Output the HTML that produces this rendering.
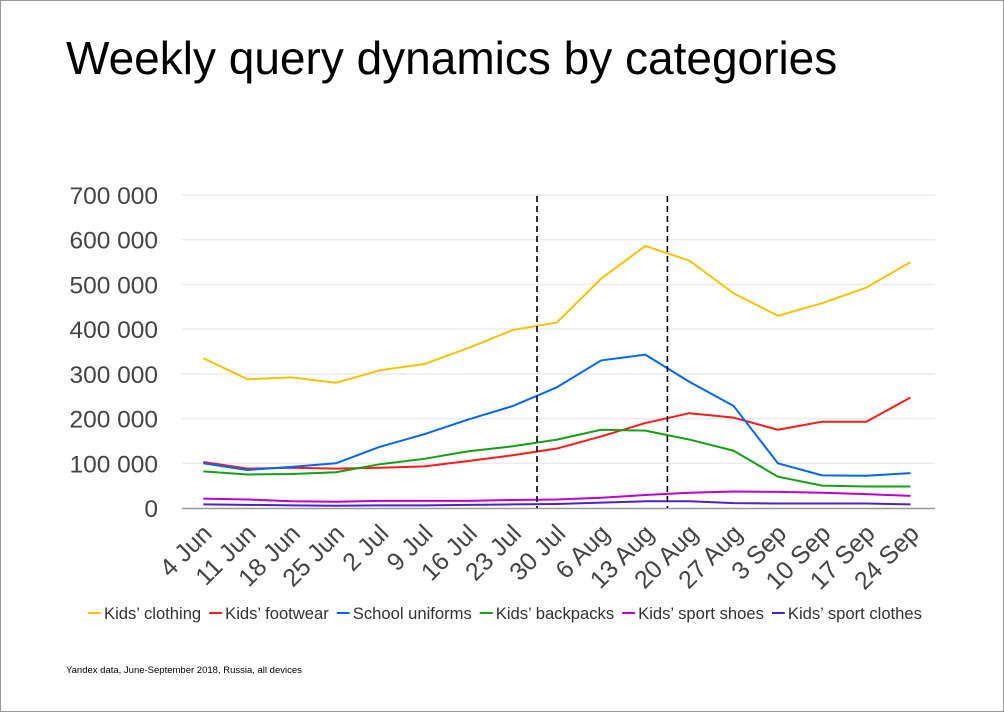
<!DOCTYPE html>
<html><head><meta charset="utf-8"><style>
body{margin:0;background:#fff}
svg{display:block;font-family:"Liberation Sans",Arial,sans-serif}
</style></head><body>
<svg width="1004" height="712" viewBox="0 0 1004 712">
<rect x="0.5" y="0.5" width="1003" height="711" fill="#fff" stroke="#999"/>
<text x="66" y="74" font-size="46" fill="#000">Weekly query dynamics by categories</text>
<g id="grid"></g><g id="series"></g><g id="xlabels"></g>
<g id="legend" font-size="16.6" fill="#333"></g>
<text x="66" y="673" font-size="9.5" fill="#000">Yandex data, June-September 2018, Russia, all devices</text>
</svg>
<script>
const categories=["4 Jun","11 Jun","18 Jun","25 Jun","2 Jul","9 Jul","16 Jul","23 Jul","30 Jul","6 Aug","13 Aug","20 Aug","27 Aug","3 Sep","10 Sep","17 Sep","24 Sep"];
const yTicks=[0,100000,200000,300000,400000,500000,600000,700000];
const yTickLabels=["0","100 000","200 000","300 000","400 000","500 000","600 000","700 000"];
const kidsClothing=[335,288,292,280,308,322,358,398,415,513,586,553,480,430,458,493,550];
const kidsFootwear=[103,88,90,88,90,93,105,118,133,160,190,212,202,175,193,193,247];
const schoolUniforms=[100,85,92,100,137,165,198,228,270,330,343,282,228,100,73,72,78];
const kidsBackpacks=[82,75,76,80,98,110,127,138,153,175,173,153,128,70,50,48,48];
const kidsSportShoes=[21,19,15,14,16,16,16,18,19,23,29,34,37,36,34,31,27];
const kidsSportClothes=[8,7,6,5,6,6,7,8,9,12,15,15,11,10,10,10,8];
const seriesNames=["Kids’ clothing","Kids’ footwear","School uniforms","Kids’ backpacks","Kids’ sport shoes","Kids’ sport clothes"];
const seriesColors=["#ffc000","#ff1a1a","#0066ff","#14a014","#c000d0","#5020d0"];
const seriesData=[kidsClothing,kidsFootwear,schoolUniforms,kidsBackpacks,kidsSportShoes,kidsSportClothes];
const markerLines=[7.55,10.5];
const NS="http://www.w3.org/2000/svg";
const x=i=>203.3+i*44.2;
const y=v=>508-v/700000*313;
function mk(t,a,p){const e=document.createElementNS(NS,t);for(const k in a)e.setAttribute(k,a[k]);p.appendChild(e);return e;}
const grid=document.getElementById('grid');
yTicks.forEach((v,i)=>{
  if(i>0){const l=mk('line',{x1:182,x2:935,y1:y(v),y2:y(v),stroke:'#ebebeb','stroke-width':1.5},grid);
  
  }
  const t=mk('text',{x:158,y:y(v)+9,'text-anchor':'end','font-size':24.5,fill:'#444'},grid);t.textContent=yTickLabels[i];
  
  
});
const ax=mk('line',{x1:182,x2:935,y1:508.5,y2:508.5,stroke:'#999','stroke-width':1.5},grid);


const sg=document.getElementById('series');
seriesData.forEach((d,s)=>{
  const p=mk('polyline',{points:d.map((v,i)=>x(i)+','+y(v*1000)).join(' '),fill:'none',stroke:seriesColors[s],'stroke-width':2,'stroke-linejoin':'round'},sg);
  
  
});
markerLines.forEach(m=>{
  const l=mk('line',{x1:x(m),x2:x(m),y1:196,y2:508,stroke:'#000','stroke-width':1.6,'stroke-dasharray':'6,4'},sg);
  
  
});
const xl=document.getElementById('xlabels');
categories.forEach((c,i)=>{
  const ax0=x(i)+10, ay0=535;
  const t=mk('text',{x:ax0,y:ay0,'text-anchor':'end','font-size':25,fill:'#444',transform:`rotate(-45 ${ax0} ${ay0})`},xl);t.textContent=c;
  
  
});
const lg=document.getElementById('legend');
let lx=88;
seriesNames.forEach((n,s)=>{
  const l=mk('line',{x1:lx,x2:lx+13,y1:613,y2:613,stroke:seriesColors[s],'stroke-width':2},lg);
  
  
  const t=mk('text',{x:lx+16,y:619},lg);t.textContent=n;
  
  
  lx+=16+t.getComputedTextLength()+8;
});
</script>
</body></html>
